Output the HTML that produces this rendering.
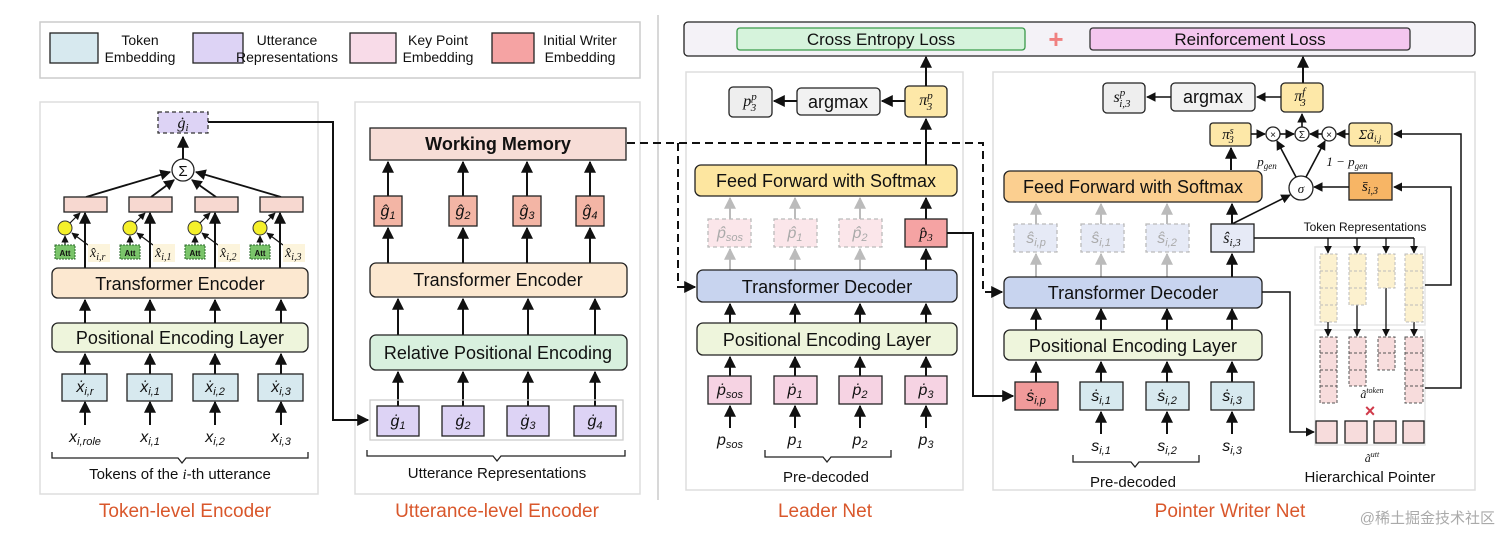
<!DOCTYPE html>
<html><head><meta charset="utf-8"><style>
html,body{margin:0;padding:0;background:#fff}
svg{display:block}
text{font-family:"Liberation Sans",sans-serif;fill:#111}
.m{font-family:"Liberation Serif",serif;font-style:italic}
.lbl{font-size:18px;text-anchor:middle}
.ttl{font-size:19px;fill:#d9572b;text-anchor:middle}
.st{stroke:#222;stroke-width:1.3}
</style></head><body>
<svg width="1512" height="544" viewBox="0 0 1512 544" xmlns="http://www.w3.org/2000/svg">
<defs>
<marker id="a" viewBox="0 0 10 10" refX="9" refY="5" markerWidth="6" markerHeight="6" orient="auto"><path d="M0,0L10,5L0,10z" fill="#111"/></marker>
<marker id="g" viewBox="0 0 10 10" refX="9" refY="5" markerWidth="6" markerHeight="6" orient="auto"><path d="M0,0L10,5L0,10z" fill="#bbb"/></marker>
</defs>
<!-- legend -->
<rect x="40" y="22" width="600" height="56" fill="#fff" stroke="#ccc" stroke-width="1.5"/>
<rect x="50" y="33" width="48" height="30" fill="#d7e9ef" class="st"/>
<text x="140" y="45" font-size="14" text-anchor="middle">Token</text><text x="140" y="62" font-size="14" text-anchor="middle">Embedding</text>
<rect x="193" y="33" width="50" height="30" fill="#ddd3f5" class="st"/>
<text x="287" y="45" font-size="14" text-anchor="middle">Utterance</text><text x="287" y="62" font-size="14" text-anchor="middle">Representations</text>
<rect x="350" y="33" width="46" height="30" fill="#f8dbe8" class="st"/>
<text x="438" y="45" font-size="14" text-anchor="middle">Key Point</text><text x="438" y="62" font-size="14" text-anchor="middle">Embedding</text>
<rect x="492" y="33" width="42" height="30" fill="#f5a3a3" class="st"/>
<text x="580" y="45" font-size="14" text-anchor="middle">Initial Writer</text><text x="580" y="62" font-size="14" text-anchor="middle">Embedding</text>
<line x1="658" y1="15" x2="658" y2="500" stroke="#ccc" stroke-width="1.5"/>
<!-- loss bar -->
<rect x="684" y="22" width="791" height="34" rx="4" fill="#f4f2f7" class="st"/>
<rect x="737" y="28" width="288" height="22" rx="3" fill="#d6f3dc" stroke="#3a9a4a" stroke-width="1.3"/>
<text x="881" y="45" font-size="17" text-anchor="middle">Cross Entropy Loss</text>
<text x="1056" y="48" font-size="26" text-anchor="middle" font-weight="bold" style="fill:#f08080">+</text>
<rect x="1090" y="28" width="320" height="22" rx="3" fill="#f4c6ef" stroke="#333" stroke-width="1.3"/>
<text x="1250" y="45" font-size="17" text-anchor="middle">Reinforcement Loss</text>
<!-- panels -->
<rect x="40" y="102" width="278" height="392" fill="none" stroke="#ddd" stroke-width="1.5"/>
<rect x="355" y="102" width="285" height="392" fill="none" stroke="#ddd" stroke-width="1.5"/>
<rect x="686" y="72" width="277" height="418" fill="none" stroke="#ddd" stroke-width="1.5"/>
<rect x="993" y="72" width="482" height="418" fill="none" stroke="#ddd" stroke-width="1.5"/>
<text x="185" y="517" class="ttl">Token-level Encoder</text>
<text x="497" y="517" class="ttl">Utterance-level Encoder</text>
<text x="825" y="517" class="ttl">Leader Net</text>
<text x="1230" y="517" class="ttl">Pointer Writer Net</text>
<text x="1495" y="523" font-size="15" text-anchor="end" style="fill:#aaa;font-family:'Liberation Sans','Noto Sans CJK SC',sans-serif">@稀土掘金技术社区</text>

<!-- TOKEN LEVEL -->
<rect x="158" y="112" width="50" height="21" fill="#ddd3f5" stroke="#333" stroke-width="1.3" stroke-dasharray="4,3"/>
<text x="183" y="128" font-size="16" class="m" text-anchor="middle">ġ<tspan font-size="11" dy="3">i</tspan></text>
<polyline points="208,122 333,122 333,420 368,420" fill="none" stroke="#111" stroke-width="2" marker-end="url(#a)"/>
<circle cx="183" cy="170" r="11" fill="#fff" class="st"/>
<text x="183" y="176" font-size="15" text-anchor="middle">Σ</text>
<line x1="183" y1="159" x2="183" y2="137" stroke="#111" stroke-width="2" marker-end="url(#a)"/>
<g stroke="#111" stroke-width="1.8" marker-end="url(#a)">
<line x1="86" y1="197" x2="170" y2="172"/><line x1="151" y1="197" x2="174" y2="180"/>
<line x1="216" y1="197" x2="192" y2="180"/><line x1="281" y1="197" x2="196" y2="172"/>
</g>
<g>
<rect x="64" y="197" width="43" height="15" fill="#f7d8d0" class="st"/>
<rect x="129" y="197" width="43" height="15" fill="#f7d8d0" class="st"/>
<rect x="195" y="197" width="43" height="15" fill="#f7d8d0" class="st"/>
<rect x="260" y="197" width="43" height="15" fill="#f7d8d0" class="st"/>
</g>
<g id="tk">
<circle cx="65" cy="228" r="7" fill="#f5f02a" stroke="#333"/>
<line x1="70" y1="223" x2="80" y2="213" stroke="#111" stroke-width="1.2" marker-end="url(#a)"/>
<line x1="65" y1="245" x2="65" y2="236" stroke="#111" stroke-width="1.2" marker-end="url(#a)"/>
<line x1="88" y1="245" x2="72" y2="233" stroke="#111" stroke-width="1.2" marker-end="url(#a)"/>
<rect x="55" y="245" width="20" height="14" fill="#7ac46a" stroke="#2a6a2a" stroke-dasharray="2,1"/>
<text x="65" y="256" font-size="8" text-anchor="middle" font-weight="bold">Att</text>
<line x1="85" y1="268" x2="85" y2="213" stroke="#111" stroke-width="2" marker-end="url(#a)"/>
<rect x="88" y="244" width="22" height="18" fill="#fcf4dc"/>
</g>
<use href="#tk" x="65"/><use href="#tk" x="130"/><use href="#tk" x="195"/>
<text x="90" y="257" font-size="14" class="m">x̂<tspan font-size="10" dy="3">i,r</tspan></text>
<text x="155" y="257" font-size="14" class="m">x̂<tspan font-size="10" dy="3">i,1</tspan></text>
<text x="220" y="257" font-size="14" class="m">x̂<tspan font-size="10" dy="3">i,2</tspan></text>
<text x="285" y="257" font-size="14" class="m">x̂<tspan font-size="10" dy="3">i,3</tspan></text>
<rect x="52" y="268" width="256" height="30" rx="6" fill="#fce8d0" class="st"/>
<text x="180" y="290" class="lbl">Transformer Encoder</text>
<rect x="52" y="323" width="256" height="29" rx="6" fill="#eef5dc" class="st"/>
<text x="180" y="344" class="lbl">Positional Encoding Layer</text>
<g stroke="#111" stroke-width="2" marker-end="url(#a)">
<line x1="85" y1="323" x2="85" y2="300"/><line x1="150" y1="323" x2="150" y2="300"/><line x1="215" y1="323" x2="215" y2="300"/><line x1="281" y1="323" x2="281" y2="300"/>
<line x1="85" y1="374" x2="85" y2="354"/><line x1="150" y1="374" x2="150" y2="354"/><line x1="215" y1="374" x2="215" y2="354"/><line x1="281" y1="374" x2="281" y2="354"/>
<line x1="85" y1="425" x2="85" y2="402"/><line x1="150" y1="425" x2="150" y2="402"/><line x1="215" y1="425" x2="215" y2="402"/><line x1="281" y1="425" x2="281" y2="402"/>
</g>
<g fill="#d7e9ef" class="st">
<rect x="62" y="374" width="45" height="27"/><rect x="127" y="374" width="45" height="27"/><rect x="193" y="374" width="45" height="27"/><rect x="258" y="374" width="45" height="27"/>
</g>
<g font-size="16" class="m" text-anchor="middle">
<text x="85" y="392">ẋ<tspan font-size="11" dy="3">i,r</tspan></text>
<text x="150" y="392">ẋ<tspan font-size="11" dy="3">i,1</tspan></text>
<text x="215" y="392">ẋ<tspan font-size="11" dy="3">i,2</tspan></text>
<text x="281" y="392">ẋ<tspan font-size="11" dy="3">i,3</tspan></text>
<text x="85" y="442">x<tspan font-size="11" dy="3">i,role</tspan></text>
<text x="150" y="442">x<tspan font-size="11" dy="3">i,1</tspan></text>
<text x="215" y="442">x<tspan font-size="11" dy="3">i,2</tspan></text>
<text x="281" y="442">x<tspan font-size="11" dy="3">i,3</tspan></text>
</g>
<path d="M52,452v6h126l4,5l4,-5h122v-6" fill="none" stroke="#222" stroke-width="1.3"/>
<text x="180" y="479" font-size="15" text-anchor="middle">Tokens of the <tspan class="m">i</tspan>-th utterance</text>

<!-- UTTERANCE -->
<rect x="370" y="128" width="256" height="32" fill="#f7ddd7" class="st"/>
<text x="498" y="150" class="lbl" font-weight="bold">Working Memory</text>
<g stroke="#111" stroke-width="2" marker-end="url(#a)">
<line x1="388" y1="196" x2="388" y2="162"/><line x1="463" y1="196" x2="463" y2="162"/><line x1="527" y1="196" x2="527" y2="162"/><line x1="590" y1="196" x2="590" y2="162"/>
<line x1="388" y1="263" x2="388" y2="228"/><line x1="463" y1="263" x2="463" y2="228"/><line x1="527" y1="263" x2="527" y2="228"/><line x1="590" y1="263" x2="590" y2="228"/>
<line x1="398" y1="335" x2="398" y2="299"/><line x1="463" y1="335" x2="463" y2="299"/><line x1="528" y1="335" x2="528" y2="299"/><line x1="595" y1="335" x2="595" y2="299"/>
<line x1="398" y1="406" x2="398" y2="372"/><line x1="463" y1="406" x2="463" y2="372"/><line x1="528" y1="406" x2="528" y2="372"/><line x1="595" y1="406" x2="595" y2="372"/>
</g>
<g fill="#f3b5a5" class="st">
<rect x="374" y="196" width="28" height="30"/><rect x="449" y="196" width="28" height="30"/><rect x="513" y="196" width="28" height="30"/><rect x="576" y="196" width="28" height="30"/>
</g>
<g font-size="16" class="m" text-anchor="middle">
<text x="388" y="216">ĝ<tspan font-size="11" dy="3">1</tspan></text><text x="463" y="216">ĝ<tspan font-size="11" dy="3">2</tspan></text>
<text x="527" y="216">ĝ<tspan font-size="11" dy="3">3</tspan></text><text x="590" y="216">ĝ<tspan font-size="11" dy="3">4</tspan></text>
</g>
<rect x="370" y="263" width="257" height="34" rx="6" fill="#fce8d0" class="st"/>
<text x="498" y="286" class="lbl">Transformer Encoder</text>
<rect x="370" y="335" width="257" height="35" rx="6" fill="#d8f0de" class="st"/>
<text x="498" y="359" class="lbl">Relative Positional Encoding</text>
<rect x="370" y="400" width="253" height="40" fill="none" stroke="#ccc" stroke-width="1.3"/>
<g fill="#ddd3f5" class="st">
<rect x="377" y="406" width="42" height="30"/><rect x="442" y="406" width="42" height="30"/><rect x="507" y="406" width="42" height="30"/><rect x="574" y="406" width="42" height="30"/>
</g>
<g font-size="16" class="m" text-anchor="middle">
<text x="398" y="426">ġ<tspan font-size="11" dy="3">1</tspan></text><text x="463" y="426">ġ<tspan font-size="11" dy="3">2</tspan></text>
<text x="528" y="426">ġ<tspan font-size="11" dy="3">3</tspan></text><text x="595" y="426">ġ<tspan font-size="11" dy="3">4</tspan></text>
</g>
<path d="M367,450v6h126l4,5l4,-5h124v-6" fill="none" stroke="#222" stroke-width="1.3"/>
<text x="497" y="478" font-size="15" text-anchor="middle">Utterance Representations</text>

<!-- dashed memory link -->
<polyline points="627,143 983,143 983,292 1002,292" fill="none" stroke="#111" stroke-width="2" stroke-dasharray="8,5" marker-end="url(#a)"/>
<polyline points="678,143 678,287 695,287" fill="none" stroke="#111" stroke-width="2" stroke-dasharray="8,5" marker-end="url(#a)"/>

<!-- LEADER -->
<rect x="729" y="87" width="43" height="30" rx="4" fill="#eee" class="st"/>
<text x="750" y="106" font-size="16" class="m" text-anchor="middle">p<tspan font-size="11" dy="-6">p</tspan><tspan font-size="11" dx="-6" dy="11">3</tspan></text>
<rect x="797" y="88" width="83" height="27" rx="4" fill="#f2f2f2" class="st"/>
<text x="838" y="108" class="lbl">argmax</text>
<rect x="905" y="86" width="42" height="31" rx="4" fill="#fde8a8" class="st"/>
<text x="926" y="105" font-size="16" class="m" text-anchor="middle">π<tspan font-size="11" dy="-6">p</tspan><tspan font-size="11" dx="-6" dy="11">3</tspan></text>
<g stroke="#111" stroke-width="2" marker-end="url(#a)">
<line x1="797" y1="101" x2="774" y2="101"/><line x1="905" y1="101" x2="882" y2="101"/>
<line x1="926" y1="86" x2="926" y2="57"/><line x1="1303" y1="83" x2="1303" y2="57"/>
<line x1="926" y1="165" x2="926" y2="119"/><line x1="926" y1="219" x2="926" y2="198"/><line x1="926" y1="270" x2="926" y2="249"/>
<line x1="730" y1="323" x2="730" y2="304"/><line x1="795" y1="323" x2="795" y2="304"/><line x1="860" y1="323" x2="860" y2="304"/><line x1="926" y1="323" x2="926" y2="304"/>
<line x1="730" y1="376" x2="730" y2="357"/><line x1="795" y1="376" x2="795" y2="357"/><line x1="860" y1="376" x2="860" y2="357"/><line x1="926" y1="376" x2="926" y2="357"/>
<line x1="730" y1="428" x2="730" y2="406"/><line x1="795" y1="428" x2="795" y2="406"/><line x1="860" y1="428" x2="860" y2="406"/><line x1="926" y1="428" x2="926" y2="406"/>
</g>
<g stroke="#bbb" stroke-width="2" marker-end="url(#g)">
<line x1="730" y1="219" x2="730" y2="198"/><line x1="795" y1="219" x2="795" y2="198"/><line x1="860" y1="219" x2="860" y2="198"/>
<line x1="730" y1="270" x2="730" y2="249"/><line x1="795" y1="270" x2="795" y2="249"/><line x1="860" y1="270" x2="860" y2="249"/>
</g>
<rect x="695" y="165" width="262" height="31" rx="6" fill="#fde6a0" class="st"/>
<text x="826" y="187" class="lbl">Feed Forward with Softmax</text>
<g fill="#fbe6ea" stroke="#bbb" stroke-width="1.3" stroke-dasharray="4,3">
<rect x="708" y="219" width="43" height="28"/><rect x="774" y="219" width="43" height="28"/><rect x="839" y="219" width="43" height="28"/>
</g>
<g font-size="16" class="m" text-anchor="middle">
<text x="730" y="238" style="fill:#aaa">p̂<tspan font-size="11" dy="3">sos</tspan></text><text x="795" y="238" style="fill:#aaa">p̂<tspan font-size="11" dy="3">1</tspan></text><text x="860" y="238" style="fill:#aaa">p̂<tspan font-size="11" dy="3">2</tspan></text>
</g>
<rect x="905" y="219" width="42" height="28" fill="#f5a3a3" class="st"/>
<text x="926" y="238" font-size="16" class="m" text-anchor="middle">p̂<tspan font-size="11" dy="3">3</tspan></text>
<polyline points="947,233 973,233 973,396 1013,396" fill="none" stroke="#111" stroke-width="2" marker-end="url(#a)"/>
<rect x="697" y="270" width="260" height="32" rx="6" fill="#c8d4ef" class="st"/>
<text x="827" y="293" class="lbl">Transformer Decoder</text>
<rect x="697" y="323" width="260" height="32" rx="6" fill="#eef5dc" class="st"/>
<text x="827" y="346" class="lbl">Positional Encoding Layer</text>
<g fill="#f6d3e3" class="st">
<rect x="708" y="376" width="43" height="28"/><rect x="774" y="376" width="43" height="28"/><rect x="839" y="376" width="43" height="28"/><rect x="905" y="376" width="42" height="28"/>
</g>
<g font-size="16" class="m" text-anchor="middle">
<text x="730" y="395">ṗ<tspan font-size="11" dy="3">sos</tspan></text><text x="795" y="395">ṗ<tspan font-size="11" dy="3">1</tspan></text><text x="860" y="395">ṗ<tspan font-size="11" dy="3">2</tspan></text><text x="926" y="395">ṗ<tspan font-size="11" dy="3">3</tspan></text>
<text x="730" y="445">p<tspan font-size="11" dy="3">sos</tspan></text><text x="795" y="445">p<tspan font-size="11" dy="3">1</tspan></text><text x="860" y="445">p<tspan font-size="11" dy="3">2</tspan></text><text x="926" y="445">p<tspan font-size="11" dy="3">3</tspan></text>
</g>
<path d="M765,450v7h58l4,5l4,-5h60v-7" fill="none" stroke="#222" stroke-width="1.3"/>
<text x="826" y="482" font-size="15" text-anchor="middle">Pre-decoded</text>

<!-- POINTER -->
<rect x="1103" y="83" width="42" height="30" rx="4" fill="#eee" class="st"/>
<text x="1122" y="102" font-size="16" class="m" text-anchor="middle">s<tspan font-size="11" dy="-6">p</tspan><tspan font-size="11" dx="-6" dy="11">i,3</tspan></text>
<rect x="1171" y="83" width="84" height="28" rx="4" fill="#f2f2f2" class="st"/>
<text x="1213" y="103" class="lbl">argmax</text>
<rect x="1281" y="83" width="42" height="29" rx="4" fill="#fde8a8" class="st"/>
<text x="1300" y="101" font-size="16" class="m" text-anchor="middle">π<tspan font-size="11" dy="-6">f</tspan><tspan font-size="11" dx="-5" dy="11">3</tspan></text>
<rect x="1210" y="123" width="41" height="23" rx="3" fill="#fde8a8" class="st"/>
<text x="1228" y="139" font-size="15" class="m" text-anchor="middle">π<tspan font-size="10" dy="-5">s</tspan><tspan font-size="10" dx="-5" dy="9">3</tspan></text>
<rect x="1349" y="123" width="43" height="23" rx="3" fill="#fde8a8" class="st"/>
<text x="1370" y="139" font-size="14" class="m" text-anchor="middle">Σã<tspan font-size="9" dy="3">i,j</tspan></text>
<circle cx="1273" cy="134" r="7" fill="#fff" class="st"/><text x="1273" y="138" font-size="10" text-anchor="middle">×</text>
<circle cx="1302" cy="134" r="7" fill="#fff" class="st"/><text x="1302" y="138" font-size="10" text-anchor="middle">Σ</text>
<circle cx="1329" cy="134" r="7" fill="#fff" class="st"/><text x="1329" y="138" font-size="10" text-anchor="middle">×</text>
<circle cx="1301" cy="188" r="12" fill="#fff" class="st"/><text x="1301" y="193" font-size="13" class="m" text-anchor="middle">σ</text>
<rect x="1349" y="173" width="43" height="27" fill="#f7b565" class="st"/>
<text x="1370" y="191" font-size="15" class="m" text-anchor="middle">s̄<tspan font-size="10" dy="3">i,3</tspan></text>
<text x="1267" y="166" font-size="13" class="m" text-anchor="middle">p<tspan font-size="9" dy="3">gen</tspan></text>
<text x="1347" y="166" font-size="13" class="m" text-anchor="middle">1 − p<tspan font-size="9" dy="3">gen</tspan></text>
<g stroke="#111" stroke-width="1.6" marker-end="url(#a)">
<line x1="1171" y1="97" x2="1147" y2="97"/><line x1="1281" y1="97" x2="1257" y2="97"/>
<line x1="1302" y1="127" x2="1302" y2="114"/>
<line x1="1251" y1="134" x2="1265" y2="134"/><line x1="1280" y1="134" x2="1294" y2="134"/>
<line x1="1349" y1="134" x2="1337" y2="134"/><line x1="1322" y1="134" x2="1310" y2="134"/>
<line x1="1296" y1="177" x2="1277" y2="141"/><line x1="1306" y1="177" x2="1325" y2="141"/>
<line x1="1349" y1="187" x2="1314" y2="187"/>
<line x1="1232" y1="224" x2="1290" y2="195"/>
</g>
<g stroke="#111" stroke-width="2" marker-end="url(#a)">
<line x1="1231" y1="170" x2="1231" y2="148"/>
<line x1="1232" y1="224" x2="1232" y2="204"/><line x1="1232" y1="277" x2="1232" y2="254"/>
<line x1="1036" y1="330" x2="1036" y2="309"/><line x1="1101" y1="330" x2="1101" y2="309"/><line x1="1167" y1="330" x2="1167" y2="309"/><line x1="1232" y1="330" x2="1232" y2="309"/>
<line x1="1036" y1="382" x2="1036" y2="362"/><line x1="1101" y1="382" x2="1101" y2="362"/><line x1="1167" y1="382" x2="1167" y2="362"/><line x1="1232" y1="382" x2="1232" y2="362"/>
<line x1="1101" y1="434" x2="1101" y2="412"/><line x1="1167" y1="434" x2="1167" y2="412"/><line x1="1232" y1="434" x2="1232" y2="412"/>
</g>
<g stroke="#bbb" stroke-width="2" marker-end="url(#g)">
<line x1="1036" y1="224" x2="1036" y2="204"/><line x1="1101" y1="224" x2="1101" y2="204"/><line x1="1167" y1="224" x2="1167" y2="204"/>
<line x1="1036" y1="277" x2="1036" y2="254"/><line x1="1101" y1="277" x2="1101" y2="254"/><line x1="1167" y1="277" x2="1167" y2="254"/>
</g>
<rect x="1004" y="171" width="258" height="31" rx="6" fill="#fbcf90" class="st"/>
<text x="1133" y="193" class="lbl">Feed Forward with Softmax</text>
<g fill="#e6eaf6" stroke="#bbb" stroke-width="1.3" stroke-dasharray="4,3">
<rect x="1014" y="224" width="43" height="28"/><rect x="1081" y="224" width="43" height="28"/><rect x="1146" y="224" width="43" height="28"/>
</g>
<g font-size="16" class="m" text-anchor="middle">
<text x="1036" y="243" style="fill:#aaa">ŝ<tspan font-size="11" dy="3">i,p</tspan></text><text x="1101" y="243" style="fill:#aaa">ŝ<tspan font-size="11" dy="3">i,1</tspan></text><text x="1167" y="243" style="fill:#aaa">ŝ<tspan font-size="11" dy="3">i,2</tspan></text>
</g>
<rect x="1211" y="224" width="43" height="28" fill="#e6eaf6" class="st"/>
<text x="1232" y="243" font-size="16" class="m" text-anchor="middle">ŝ<tspan font-size="11" dy="3">i,3</tspan></text>
<rect x="1004" y="277" width="258" height="31" rx="6" fill="#c8d4ef" class="st"/>
<text x="1133" y="299" class="lbl">Transformer Decoder</text>
<rect x="1004" y="330" width="258" height="30" rx="6" fill="#eef5dc" class="st"/>
<text x="1133" y="352" class="lbl">Positional Encoding Layer</text>
<rect x="1015" y="382" width="43" height="28" fill="#f19a9a" class="st"/>
<g fill="#d7e9ef" class="st">
<rect x="1080" y="382" width="43" height="28"/><rect x="1146" y="382" width="43" height="28"/><rect x="1211" y="382" width="43" height="28"/>
</g>
<g font-size="16" class="m" text-anchor="middle">
<text x="1036" y="401">ṡ<tspan font-size="11" dy="3">i,p</tspan></text><text x="1101" y="401">ṡ<tspan font-size="11" dy="3">i,1</tspan></text><text x="1167" y="401">ṡ<tspan font-size="11" dy="3">i,2</tspan></text><text x="1232" y="401">ṡ<tspan font-size="11" dy="3">i,3</tspan></text>
<text x="1101" y="451">s<tspan font-size="11" dy="3">i,1</tspan></text><text x="1167" y="451">s<tspan font-size="11" dy="3">i,2</tspan></text><text x="1232" y="451">s<tspan font-size="11" dy="3">i,3</tspan></text>
</g>
<path d="M1073,455v7h58l4,5l4,-5h60v-7" fill="none" stroke="#222" stroke-width="1.3"/>
<text x="1133" y="487" font-size="15" text-anchor="middle">Pre-decoded</text>

<!-- hierarchical pointer -->
<text x="1365" y="231" font-size="12" text-anchor="middle">Token Representations</text>
<rect x="1315" y="247" width="110" height="78" fill="none" stroke="#e6e6e6" stroke-width="1.5"/>
<rect x="1315" y="330" width="110" height="115" fill="none" stroke="#e6e6e6" stroke-width="1.5"/>
<polyline points="1254,238 1414,238" fill="none" stroke="#111" stroke-width="1.5"/>
<g stroke="#111" stroke-width="1.3" marker-end="url(#a)">
<line x1="1328" y1="238" x2="1328" y2="253"/><line x1="1357" y1="238" x2="1357" y2="253"/><line x1="1386" y1="238" x2="1386" y2="253"/><line x1="1414" y1="238" x2="1414" y2="253"/>
<line x1="1328" y1="322" x2="1328" y2="336"/><line x1="1357" y1="305" x2="1357" y2="336"/><line x1="1386" y1="288" x2="1386" y2="336"/><line x1="1414" y1="322" x2="1414" y2="336"/>
</g>
<g fill="#fcf1cf" stroke="#bbb" stroke-dasharray="3,2">
<rect x="1320" y="254" width="17" height="68"/><rect x="1349" y="254" width="17" height="51"/><rect x="1378" y="254" width="17" height="34"/><rect x="1405" y="254" width="18" height="68"/>
</g>
<g stroke="#bbb" stroke-dasharray="3,2">
<line x1="1320" y1="271" x2="1337" y2="271"/><line x1="1320" y1="288" x2="1337" y2="288"/><line x1="1320" y1="305" x2="1337" y2="305"/>
<line x1="1349" y1="271" x2="1366" y2="271"/><line x1="1349" y1="288" x2="1366" y2="288"/>
<line x1="1378" y1="271" x2="1395" y2="271"/>
<line x1="1405" y1="271" x2="1423" y2="271"/><line x1="1405" y1="288" x2="1423" y2="288"/><line x1="1405" y1="305" x2="1423" y2="305"/>
</g>
<g fill="#f7dcdc" stroke="#555" stroke-dasharray="3,2">
<rect x="1320" y="337" width="17" height="66"/><rect x="1349" y="337" width="17" height="49"/><rect x="1378" y="337" width="17" height="33"/><rect x="1405" y="337" width="18" height="66"/>
</g>
<g stroke="#555" stroke-dasharray="3,2">
<line x1="1320" y1="353" x2="1337" y2="353"/><line x1="1320" y1="370" x2="1337" y2="370"/><line x1="1320" y1="386" x2="1337" y2="386"/>
<line x1="1349" y1="353" x2="1366" y2="353"/><line x1="1349" y1="370" x2="1366" y2="370"/>
<line x1="1378" y1="353" x2="1395" y2="353"/>
<line x1="1405" y1="353" x2="1423" y2="353"/><line x1="1405" y1="370" x2="1423" y2="370"/><line x1="1405" y1="386" x2="1423" y2="386"/>
</g>
<text x="1372" y="398" font-size="12" class="m" text-anchor="middle">ã<tspan font-size="8" dy="-5">token</tspan></text>
<text x="1370" y="417" font-size="18" text-anchor="middle" font-weight="bold" style="fill:#d03a4a">×</text>
<g fill="#f7dcdc" class="st">
<rect x="1316" y="421" width="21" height="22"/><rect x="1345" y="421" width="22" height="22"/><rect x="1374" y="421" width="22" height="22"/><rect x="1403" y="421" width="21" height="22"/>
</g>
<text x="1372" y="462" font-size="12" class="m" text-anchor="middle">ã<tspan font-size="8" dy="-5">utt</tspan></text>
<text x="1370" y="482" font-size="15" text-anchor="middle">Hierarchical Pointer</text>
<polyline points="1262,292 1290,292 1290,432 1314,432" fill="none" stroke="#111" stroke-width="1.5" marker-end="url(#a)"/>
<polyline points="1425,388 1461,388 1461,134 1394,134" fill="none" stroke="#111" stroke-width="1.5" marker-end="url(#a)"/>
<polyline points="1425,285 1451,285 1451,187 1394,187" fill="none" stroke="#111" stroke-width="1.5" marker-end="url(#a)"/>
</svg>
</body></html>
